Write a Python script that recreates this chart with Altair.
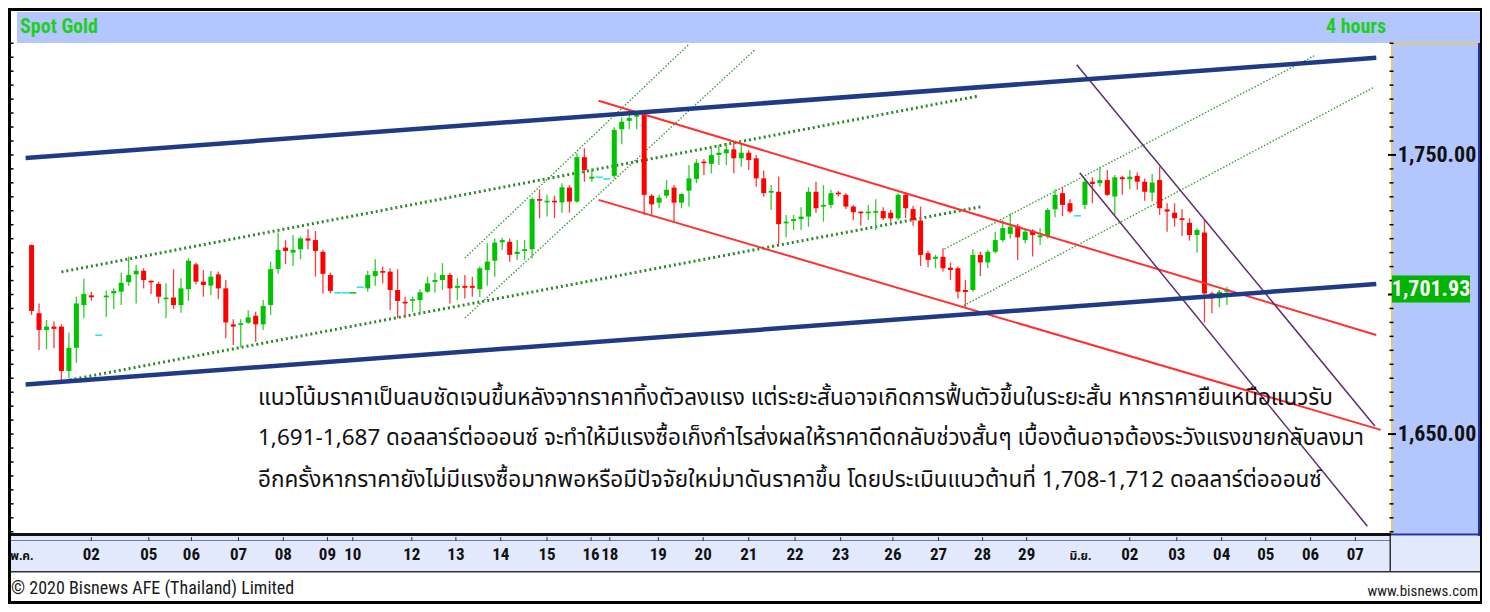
import altair as alt
import pandas as pd

# ---------------- data ----------------
OPEN = [1717.7, 1693.3, 1687.3, 1688.5, 1688.5, 1672.6, 1680.9, 1696.2, 1699.7, 1685.4,
        1699.0, 1700.4, 1701.0, 1704.4, 1707.2, 1708.5, 1704.9, 1703.8, 1698.3, 1698.9,
        1696.2, 1701.9, 1710.8, 1704.6, 1703.2, 1707.2, 1702.2, 1689.3, 1689.1, 1689.9,
        1692.4, 1689.3, 1696.2, 1709.1, 1716.8, 1715.0, 1716.2, 1720.1, 1719.5, 1715.3,
        1707.0, 1700.6, 1700.6, 1700.6, 1702.6, 1702.2, 1706.6, 1708.4, 1708.2, 1701.6,
        1697.4, 1697.7, 1698.0, 1701.0, 1704.5, 1705.2, 1707.0, 1702.4, 1703.1, 1703.1,
        1701.9, 1708.8, 1712.1, 1718.7, 1718.9, 1714.5, 1715.6, 1716.2, 1734.2, 1733.0,
        1733.6, 1733.0, 1738.3, 1733.3, 1749.2, 1741.5, 1742.0, 1741.4, 1742.5, 1759.2,
        1762.2, 1763.7, 1764.6, 1735.4, 1732.9, 1735.4, 1738.3, 1732.9, 1737.2, 1741.4,
        1747.6, 1746.8, 1750.0, 1750.6, 1752.0, 1748.8, 1750.8, 1748.8, 1741.6, 1736.5,
        1736.8, 1725.5, 1726.3, 1727.0, 1727.9, 1736.8, 1731.5, 1732.1, 1736.5, 1735.7,
        1731.5, 1729.7, 1729.1, 1729.3, 1729.9, 1729.3, 1727.3, 1735.7, 1730.6, 1726.5,
        1714.8, 1712.8, 1713.5, 1709.6, 1709.4, 1701.6, 1701.6, 1714.2, 1711.5, 1715.3,
        1719.5, 1721.7, 1724.6, 1719.5, 1722.9, 1720.5, 1721.0, 1730.5, 1736.3, 1732.7,
        1728.2, 1732.1, 1740.4, 1739.9, 1741.0, 1735.1, 1742.0, 1741.3, 1742.5, 1740.4,
        1736.5, 1741.0, 1730.5, 1729.3, 1727.3, 1725.7, 1721.3, 1722.2, 1700.4, 1698.6,
        1701.0]
HIGH = [1717.9, 1696.8, 1690.9, 1690.3, 1689.3, 1686.3, 1699.2, 1705.6, 1701.0, 1685.4,
        1701.4, 1702.2, 1707.8, 1713.6, 1710.6, 1709.4, 1704.9, 1704.6, 1704.0, 1709.1,
        1705.8, 1713.0, 1711.5, 1708.8, 1708.4, 1708.2, 1705.2, 1691.1, 1691.1, 1694.4,
        1693.8, 1698.0, 1711.8, 1722.2, 1719.5, 1721.3, 1720.7, 1723.4, 1722.8, 1716.0,
        1707.8, 1700.6, 1700.6, 1700.6, 1702.6, 1708.5, 1712.6, 1710.0, 1709.4, 1709.1,
        1699.2, 1699.2, 1701.9, 1706.4, 1707.8, 1711.2, 1707.8, 1705.8, 1707.0, 1706.4,
        1710.0, 1718.4, 1720.1, 1720.3, 1720.1, 1719.5, 1719.5, 1734.8, 1737.7, 1735.7,
        1735.4, 1739.9, 1739.2, 1750.6, 1752.4, 1745.2, 1742.0, 1741.4, 1759.9, 1763.5,
        1764.7, 1765.2, 1764.9, 1736.0, 1735.7, 1741.0, 1739.2, 1736.3, 1746.4, 1748.5,
        1748.5, 1752.4, 1753.6, 1754.2, 1754.8, 1754.2, 1751.8, 1750.0, 1744.4, 1739.2,
        1742.2, 1728.5, 1728.5, 1731.3, 1738.4, 1740.4, 1739.2, 1737.5, 1737.1, 1736.3,
        1732.1, 1729.7, 1732.1, 1734.1, 1731.3, 1730.3, 1736.3, 1736.6, 1731.7, 1731.5,
        1715.7, 1714.2, 1716.6, 1711.4, 1710.0, 1705.2, 1716.2, 1715.3, 1716.0, 1722.5,
        1726.7, 1729.1, 1725.3, 1723.1, 1723.4, 1723.7, 1730.9, 1737.7, 1738.6, 1734.1,
        1728.2, 1741.6, 1742.0, 1745.8, 1744.6, 1742.8, 1742.5, 1744.6, 1743.7, 1741.6,
        1743.2, 1745.8, 1732.7, 1732.7, 1730.5, 1727.3, 1723.7, 1726.7, 1701.0, 1701.6,
        1702.8]
LOW = [1692.7, 1680.1, 1680.4, 1680.7, 1668.8, 1670.0, 1675.6, 1691.5, 1697.8, 1685.4,
       1692.0, 1694.8, 1696.2, 1703.1, 1696.8, 1702.2, 1700.2, 1696.8, 1691.5, 1694.8,
       1693.5, 1697.7, 1703.7, 1699.2, 1699.8, 1698.3, 1684.3, 1681.9, 1681.1, 1689.4,
       1683.1, 1687.3, 1692.7, 1707.4, 1710.9, 1710.2, 1712.6, 1716.2, 1706.4, 1700.4,
       1700.4, 1700.6, 1700.6, 1700.6, 1702.6, 1701.0, 1703.1, 1704.0, 1694.4, 1691.5,
       1692.0, 1693.8, 1693.3, 1700.6, 1700.6, 1701.6, 1696.8, 1698.0, 1698.6, 1699.2,
       1699.0, 1703.1, 1706.4, 1716.0, 1711.7, 1712.4, 1712.4, 1713.0, 1727.3, 1727.9,
       1727.3, 1729.3, 1729.3, 1732.9, 1740.4, 1740.4, 1742.0, 1741.4, 1741.6, 1753.8,
       1759.2, 1759.2, 1728.5, 1728.5, 1730.9, 1734.5, 1725.7, 1730.9, 1731.5, 1739.9,
       1742.8, 1743.4, 1746.4, 1746.4, 1743.4, 1745.8, 1744.6, 1738.6, 1735.1, 1730.3,
       1717.7, 1720.5, 1723.1, 1723.1, 1724.3, 1729.3, 1726.1, 1730.9, 1735.1, 1730.6,
       1726.7, 1724.6, 1726.7, 1723.1, 1726.7, 1726.1, 1726.7, 1727.3, 1724.6, 1710.2,
       1709.8, 1709.4, 1708.2, 1705.2, 1698.6, 1695.6, 1701.0, 1706.6, 1709.4, 1714.8,
       1718.8, 1720.1, 1712.4, 1718.4, 1713.6, 1717.7, 1720.1, 1727.7, 1728.1, 1729.1,
       1728.2, 1730.5, 1732.7, 1738.6, 1735.3, 1728.5, 1735.7, 1737.7, 1737.5, 1733.6,
       1733.3, 1728.5, 1722.5, 1724.3, 1721.0, 1719.3, 1715.0, 1689.9, 1693.3, 1695.4,
       1696.2]
CLOSE = [1694.1, 1687.3, 1688.5, 1687.7, 1672.6, 1680.9, 1696.8, 1700.2, 1699.0, 1685.4,
         1699.6, 1701.3, 1704.2, 1707.0, 1708.5, 1705.2, 1704.4, 1699.2, 1698.9, 1696.2,
         1702.2, 1712.1, 1704.6, 1703.4, 1706.4, 1702.2, 1690.0, 1688.5, 1689.7, 1691.8,
         1689.3, 1695.9, 1709.1, 1716.0, 1715.6, 1716.0, 1720.1, 1719.3, 1715.6, 1707.4,
         1701.3, 1700.6, 1700.6, 1700.6, 1702.6, 1707.0, 1708.4, 1707.8, 1701.6, 1697.7,
         1696.8, 1698.3, 1700.8, 1704.0, 1705.2, 1707.0, 1702.2, 1703.1, 1702.4, 1702.4,
         1709.4, 1711.8, 1718.6, 1719.5, 1714.2, 1715.3, 1716.2, 1734.2, 1733.6, 1733.6,
         1733.0, 1738.4, 1733.3, 1749.2, 1744.6, 1742.2, 1742.0, 1741.4, 1759.0, 1761.9,
         1763.2, 1764.6, 1735.7, 1732.3, 1734.7, 1737.5, 1732.9, 1736.0, 1741.6, 1747.2,
         1747.0, 1750.0, 1750.8, 1752.0, 1748.8, 1750.8, 1748.2, 1741.6, 1736.3, 1737.1,
         1725.2, 1726.1, 1727.0, 1727.9, 1736.8, 1730.9, 1732.1, 1736.3, 1735.9, 1731.5,
         1729.5, 1729.1, 1729.7, 1729.9, 1727.3, 1727.3, 1735.7, 1730.9, 1726.7, 1714.2,
         1712.4, 1713.5, 1709.4, 1708.8, 1701.0, 1700.9, 1714.2, 1711.5, 1715.3, 1719.5,
         1723.8, 1724.3, 1720.5, 1722.5, 1721.3, 1721.2, 1730.3, 1735.7, 1732.1, 1729.7,
         1728.2, 1740.4, 1739.6, 1741.0, 1735.7, 1742.0, 1741.3, 1742.2, 1740.4, 1736.8,
         1740.1, 1730.9, 1729.7, 1727.3, 1726.7, 1721.3, 1723.1, 1700.4, 1698.6, 1701.0,
         1701.93]
FLAT_UP = [43]          # unchanged bar drawn in green instead of cyan

DATE_LABELS = ["พ.ค.", "02", "05", "06", "07", "08", "09", "10", "12", "13", "14", "15",
               "16", "18", "19", "20", "21", "22", "23", "26", "27", "28", "29", "มิ.ย.",
               "02", "03", "04", "05", "06", "07"]
DATE_POS = [-1.3, 8.0, 15.7, 21.4, 27.7, 33.7, 39.6, 43.0, 50.9, 56.8, 62.8, 69.0,
            74.9, 77.4, 83.9, 89.9, 96.0, 102.2, 108.3, 115.3, 121.4, 127.3, 133.2, 140.4,
            147.0, 153.3, 159.3, 165.2, 171.2, 177.2]
MONTHS = ["พ.ค.", "มิ.ย."]

PRICE_LABELS = [1650, 1750]
PRICE_TEXT = ["1,650.00", "1,750.00"]
TICK_PRICES = list(range(1615, 1791, 5))
LAST_PRICE = 1701.93
LAST_TEXT = "1,701.93"

# trend lines: (bar index, price) end points
NAVY_UPPER = [(-0.8, 1748.9), (180.0, 1784.8)]
NAVY_LOWER = [(-0.8, 1667.8), (180.0, 1703.8)]
GREEN_CH_UPPER = [(4.0, 1708.1), (126.7, 1771.1)]
GREEN_CH_LOWER = [(5.1, 1669.4), (127.0, 1731.4)]
GREEN_STEEP_1 = [(58.0, 1713.1), (87.9, 1789.4)]
GREEN_STEEP_2 = [(58.0, 1691.6), (96.8, 1787.6)]
GREEN_RISE_1 = [(122.2, 1716.3), (171.9, 1785.8)]
GREEN_RISE_2 = [(124.4, 1695.5), (179.8, 1774.4)]
RED_UPPER = [(75.9, 1769.4), (180.0, 1685.5)]
RED_LOWER = [(75.9, 1733.9), (180.6, 1651.5)]
PURPLE_UPPER = [(139.9, 1782.3), (179.8, 1652.9)]
PURPLE_LOWER = [(140.3, 1743.6), (178.8, 1617.0)]

TITLE_LEFT = "Spot Gold"
TITLE_RIGHT = "4 hours"
FOOT_LEFT = "© 2020 Bisnews AFE (Thailand) Limited"
FOOT_RIGHT = "www.bisnews.com"
NOTE_LINES = [
    "แนวโน้มราคาเป็นลบชัดเจนขึ้นหลังจากราคาทิ้งตัวลงแรง แต่ระยะสั้นอาจเกิดการฟื้นตัวขึ้นในระยะสั้น หากราคายืนเหนือแนวรับ",
    "1,691-1,687  ดอลลาร์ต่อออนซ์ จะทำให้มีแรงซื้อเก็งกำไรส่งผลให้ราคาดีดกลับช่วงสั้นๆ เบื้องต้นอาจต้องระวังแรงขายกลับลงมา",
    "อีกครั้งหากราคายังไม่มีแรงซื้อมากพอหรือมีปัจจัยใหม่มาดันราคาขึ้น โดยประเมินแนวต้านที่ 1,708-1,712 ดอลลาร์ต่อออนซ์",
]

# ---------------- build tables ----------------
rows = []
for i, (o, h, l, c) in enumerate(zip(OPEN, HIGH, LOW, CLOSE)):
    if o == c and h == l:
        kind = "flatup" if i in FLAT_UP else "flat"
    elif c >= o:
        kind = "up"
    else:
        kind = "down"
    top, bot = max(o, c), min(o, c)
    if top - bot < 0.6:
        mid = (top + bot) / 2
        top, bot = mid + 0.3, mid - 0.3
    rows.append(dict(i=i, o=o, h=h, l=l, c=c, top=top, bot=bot, kind=kind))
cdf = pd.DataFrame(rows)


def line_df(named):
    recs = []
    for name, pts in named.items():
        for x, p in pts:
            recs.append(dict(line=name, x=x, p=p))
    return pd.DataFrame(recs)


XS = alt.Scale(domain=[-1.95, 181.3], nice=False, zero=False)
YS = alt.Scale(domain=[1614.2, 1790.1], nice=False, zero=False)
OX, OY = 12, 43            # page position of the plot origin
NARROW = "Liberation Sans Narrow, Roboto Condensed, Arial Narrow, sans-serif"
THAI = "Noto Sans Thai, Noto Sans Thai UI, Tahoma, Loma, sans-serif"
one = pd.DataFrame({"a": [0]})


def rect(x1, y1, x2, y2, color):
    return alt.Chart(one).mark_rect(color=color).encode(
        x=alt.value(x1 - OX), x2=alt.value(x2 - OX),
        y=alt.value(y1 - OY), y2=alt.value(y2 - OY))


def text(s, x, y, **kw):
    return alt.Chart(one).mark_text(text=s, **kw).encode(
        x=alt.value(x - OX), y=alt.value(y - OY))


X = alt.X("i:Q", scale=XS, axis=None)

layers = []
# frame and panels
layers.append(rect(11, 11, 1480, 601, "#ffffff"))
layers.append(rect(17, 12, 1480, 43, "#b3c6fe"))
layers.append(rect(1391, 43, 1480, 535, "#b3c6fe"))
layers.append(rect(1391, 43, 1392.5, 535, "#f2c84b"))
layers.append(rect(1391, 43, 1480, 44.5, "#f2c84b"))
layers.append(rect(1478, 43, 1480, 536, "#2233aa"))
layers.append(rect(1391, 533.5, 1480, 535.5, "#2233aa"))
layers.append(rect(11, 536, 1480, 572, "#e3e9fd"))
layers.append(rect(11, 533, 1391, 536, "#111111"))
layers.append(rect(11, 540, 1390, 541, "#6d7aa8"))
layers.append(rect(11, 571, 1480, 572.5, "#333333"))
layers.append(rect(1389.5, 536, 1391, 572, "#333333"))

# axis ticks
tdf = pd.DataFrame({"p": TICK_PRICES})
tdf["major"] = tdf["p"] % 50 == 0
layers.append(alt.Chart(tdf).mark_rule(color="#000000", strokeWidth=1.5).encode(
    x=alt.value(-2), x2=alt.value(1.5), y=alt.Y("p:Q", scale=YS, axis=None)))
layers.append(alt.Chart(tdf).transform_filter("!datum.major").mark_rule(
    color="#000000", strokeWidth=1.5).encode(
    x=alt.value(1377.5), x2=alt.value(1381.5), y=alt.Y("p:Q", scale=YS, axis=None)))
layers.append(alt.Chart(tdf).transform_filter("datum.major").mark_rule(
    color="#000000", strokeWidth=2).encode(
    x=alt.value(1376), x2=alt.value(1384), y=alt.Y("p:Q", scale=YS, axis=None)))

# date ticks and labels
ddf = pd.DataFrame({"pos": DATE_POS, "lab": DATE_LABELS})
ddf["month"] = ddf["lab"].isin(MONTHS)
layers.append(alt.Chart(ddf).transform_filter("!datum.month").mark_rule(
    color="#333333", strokeWidth=1).encode(
    x=alt.X("pos:Q", scale=XS, axis=None), y=alt.value(537 - OY), y2=alt.value(541 - OY)))
layers.append(alt.Chart(ddf).transform_filter("!datum.month").mark_text(
    font=NARROW, fontSize=17, fontWeight="bold", color="#111111", baseline="middle").encode(
    x=alt.X("pos:Q", scale=XS, axis=None), y=alt.value(555 - OY), text="lab:N"))
layers.append(alt.Chart(ddf).transform_filter("datum.month").mark_text(
    font=THAI, fontSize=12, fontWeight="bold", color="#111111", baseline="middle").encode(
    x=alt.X("pos:Q", scale=XS, axis=None), y=alt.value(556 - OY), text="lab:N"))

# trend lines (under the candles for the channel lines)
green_thick = line_df({"a": GREEN_CH_UPPER, "b": GREEN_CH_LOWER})
green_thin = line_df({"c1": GREEN_STEEP_1, "c2": GREEN_STEEP_2,
                      "d1": GREEN_RISE_1, "d2": GREEN_RISE_2})
red = line_df({"ru": RED_UPPER, "rl": RED_LOWER})
purple = line_df({"pu": PURPLE_UPPER, "pl": PURPLE_LOWER})
navy = line_df({"nu": NAVY_UPPER, "nl": NAVY_LOWER})


def lines(df, **kw):
    return alt.Chart(df).mark_line(clip=True, **kw).encode(
        x=alt.X("x:Q", scale=XS, axis=None), y=alt.Y("p:Q", scale=YS, axis=None),
        detail="line:N")


layers.append(lines(green_thick, color="#2a8a2a", strokeWidth=3, strokeDash=[2, 3]))
layers.append(lines(green_thin, color="#3a9e3a", strokeWidth=1.4, strokeDash=[1.5, 1.8]))

# candles
def sub(kind):
    return alt.Chart(cdf).transform_filter(f"datum.kind == '{kind}'")


layers.append(sub("up").mark_rule(color="#33cc33", strokeWidth=1.3).encode(
    x=X, y=alt.Y("l:Q", scale=YS, axis=None), y2="h:Q"))
layers.append(sub("down").mark_rule(color="#ff3b3b", strokeWidth=1.3).encode(
    x=X, y=alt.Y("l:Q", scale=YS, axis=None), y2="h:Q"))
layers.append(sub("up").mark_bar(color="#00c400", width=5).encode(
    x=X, y=alt.Y("top:Q", scale=YS, axis=None), y2="bot:Q"))
layers.append(sub("down").mark_bar(color="#ff0000", width=5).encode(
    x=X, y=alt.Y("top:Q", scale=YS, axis=None), y2="bot:Q"))
layers.append(sub("flat").mark_bar(color="#2ee6f0", width=7).encode(
    x=X, y=alt.Y("top:Q", scale=YS, axis=None), y2="bot:Q"))
layers.append(sub("flatup").mark_bar(color="#22c022", width=7).encode(
    x=X, y=alt.Y("top:Q", scale=YS, axis=None), y2="bot:Q"))

layers.append(lines(red, color="#ff3030", strokeWidth=2))
layers.append(lines(purple, color="#5e2e6e", strokeWidth=1.5))
layers.append(lines(navy, color="#1f3a86", strokeWidth=4.5))

# header / footer texts
layers.append(text(TITLE_LEFT, 20, 27, font=NARROW, fontSize=20, fontWeight="bold",
                   color="#1fcf1f", align="left", baseline="middle"))
layers.append(text(TITLE_RIGHT, 1386, 27, font=NARROW, fontSize=20, fontWeight="bold",
                   color="#1fcf1f", align="right", baseline="middle"))
layers.append(text(FOOT_LEFT, 11, 589, font=NARROW, fontSize=18, color="#1a1a1a",
                   align="left", baseline="middle"))
layers.append(text(FOOT_RIGHT, 1478, 591, font=NARROW, fontSize=15, color="#1a1a1a",
                   align="right", baseline="middle"))

# annotation
for k, yy in enumerate([398, 438, 480]):
    layers.append(text(NOTE_LINES[k], 258, yy, font=THAI, fontSize=22.5, color="#111111",
                       align="left", baseline="middle"))

# price labels on the right panel
pdf = pd.DataFrame({"p": PRICE_LABELS, "t": PRICE_TEXT})
layers.append(alt.Chart(pdf).mark_text(font=NARROW, fontSize=22, fontWeight="bold",
                                       color="#111111", align="center", baseline="middle").encode(
    x=alt.value(1437 - OX), y=alt.Y("p:Q", scale=YS, axis=None), text="t:N"))
ldf = pd.DataFrame({"p": [LAST_PRICE], "t": [LAST_TEXT]})
layers.append(alt.Chart(ldf).mark_tick(orient="horizontal", size=78, thickness=27,
                                       color="#00b400", opacity=1).encode(
    x=alt.value(1431 - OX), y=alt.Y("p:Q", scale=YS, axis=None)))
layers.append(alt.Chart(ldf).mark_text(font=NARROW, fontSize=22, fontWeight="bold",
                                       color="#ffffff", align="center", baseline="middle").encode(
    x=alt.value(1431 - OX), y=alt.Y("p:Q", scale=YS, axis=None), text="t:N"))

chart = alt.layer(*layers).properties(
    width=1379, height=491,
    padding={"left": 4, "top": 35, "right": 91, "bottom": 70},
    autosize=alt.AutoSizeParams(type="none"),
    background="#000000",
).configure_view(stroke=None, fill="#ffffff")

chart.save("out.html", embed_options={"renderer": "svg", "actions": False})
